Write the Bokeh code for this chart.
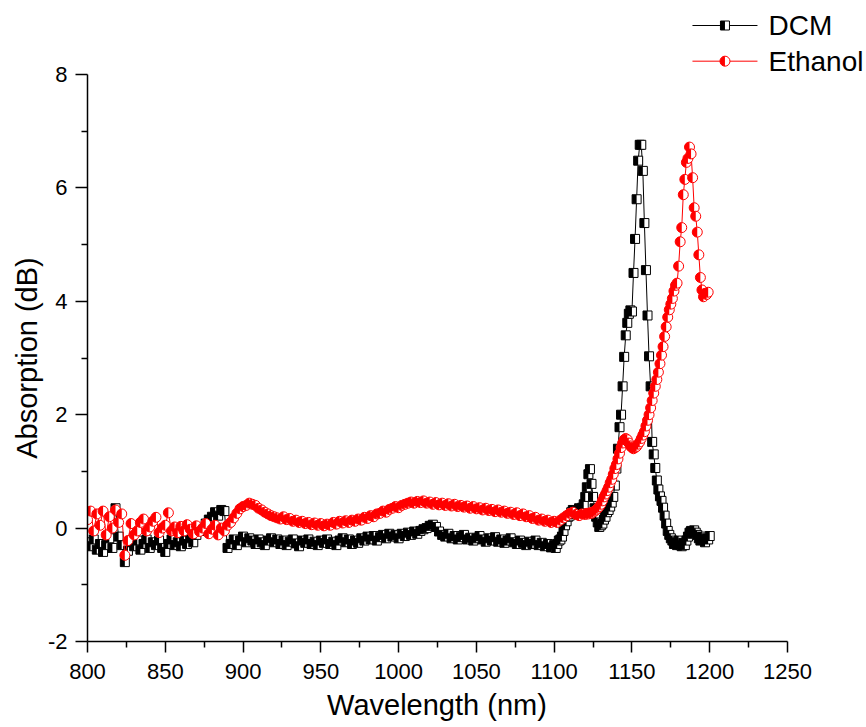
import math
from bokeh.plotting import figure
from bokeh.models import Range1d, FixedTicker, Title
from bokeh.transform import dodge
from bokeh.core.properties import value
from bokeh.embed import file_html
from bokeh.resources import INLINE

FONT = "Liberation Sans"

# ---------------- data ----------------
series_names = ["DCM", "Ethanol"]

dcm_wl_coarse = list(range(800, 1100, 2))
dcm_abs_coarse = [
    -0.25, -0.32, -0.20, -0.38, -0.28, -0.42, -0.30, -0.18, -0.35, 0.35,
    -0.15, -0.30, -0.60, -0.40, -0.25, -0.32, -0.22, -0.38, -0.28, -0.20,
    -0.35, -0.25, -0.30, -0.22, -0.35, -0.42, -0.28, -0.20, -0.30, -0.25,
    -0.32, -0.22, -0.28, -0.18, -0.25, -0.12, -0.05, 0.00, 0.08, 0.15,
    0.20, 0.28, 0.22, 0.32, 0.30, -0.35, -0.28, -0.20, -0.30, -0.22,
    -0.15, -0.25, -0.18, -0.22, -0.28, -0.20, -0.25, -0.30, -0.22, -0.18,
    -0.25, -0.20, -0.28, -0.22, -0.30, -0.24, -0.20, -0.27, -0.32, -0.22,
    -0.26, -0.20, -0.28, -0.24, -0.30, -0.22, -0.26, -0.20, -0.28, -0.24,
    -0.30, -0.22, -0.18, -0.25, -0.20, -0.28, -0.22, -0.26, -0.18, -0.22,
    -0.15, -0.20, -0.14, -0.22, -0.16, -0.12, -0.18, -0.10, -0.15, -0.12,
    -0.18, -0.10, -0.14, -0.08, -0.12, -0.06, -0.10, -0.05, -0.02, 0.00,
    0.04, 0.06, 0.02, -0.06, -0.12, -0.15, -0.10, -0.18, -0.14, -0.20,
    -0.16, -0.12, -0.20, -0.17, -0.22, -0.18, -0.14, -0.20, -0.24, -0.18,
    -0.22, -0.16, -0.24, -0.20, -0.26, -0.22, -0.18, -0.25, -0.28, -0.22,
    -0.26, -0.30, -0.24, -0.28, -0.22, -0.30, -0.26, -0.32, -0.28, -0.34,
]
dcm_wl_fine = list(range(1100, 1201))
dcm_abs_fine = [
    -0.30, -0.35, -0.28, -0.22, -0.20, -0.15, -0.05, 0.05, 0.12, 0.20,
    0.22, 0.28, 0.32, 0.30, 0.25, 0.30, 0.35, 0.30, 0.36, 0.42,
    0.55, 0.72, 0.95, 1.04, 0.78, 0.55, 0.35, 0.20, 0.10, 0.02,
    0.05, 0.08, 0.15, 0.20, 0.28, 0.32, 0.38, 0.45, 0.55, 0.75,
    1.05, 1.40, 1.78, 2.00, 2.50, 3.02, 3.40, 3.62, 3.78, 3.84,
    3.82, 4.50, 5.10, 5.80, 6.48, 6.76, 6.76, 6.30, 5.38, 4.55,
    3.75, 3.03, 2.50, 1.52, 1.30, 1.06, 0.84, 0.68, 0.56, 0.48,
    0.36, 0.22, 0.08, -0.05, -0.12, -0.18, -0.22, -0.28, -0.25, -0.30,
    -0.22, -0.30, -0.32, -0.26, -0.30, -0.22, -0.15, -0.08, -0.05, -0.10,
    -0.04, -0.08, -0.12, -0.18, -0.22, -0.15, -0.20, -0.25, -0.18, -0.20,
    -0.14,
]

eth_wl_coarse = list(range(800, 1120, 2))
eth_abs_coarse = [
    0.15, 0.30, -0.05, 0.25, 0.05, 0.30, -0.12, 0.20, 0.00, 0.32,
    0.10, 0.25, -0.48, -0.22, 0.08, -0.12, -0.05, 0.10, 0.16, -0.05,
    0.02, 0.12, 0.19, -0.08, 0.00, 0.05, 0.27, -0.05, 0.02, -0.08,
    0.03, -0.05, 0.06, -0.02, -0.10, 0.04, -0.06, 0.00, 0.08, -0.10,
    -0.02, 0.05, -0.12, 0.00, -0.05, 0.05, 0.10, 0.18, 0.26, 0.34,
    0.38, 0.40, 0.44, 0.42, 0.40, 0.35, 0.32, 0.28, 0.25, 0.22,
    0.20, 0.18, 0.16, 0.20, 0.15, 0.17, 0.12, 0.14, 0.10, 0.12,
    0.08, 0.10, 0.06, 0.09, 0.05, 0.08, 0.04, 0.07, 0.05, 0.10,
    0.07, 0.12, 0.09, 0.13, 0.10, 0.14, 0.12, 0.16, 0.14, 0.19,
    0.17, 0.22, 0.20, 0.25, 0.26, 0.30, 0.28, 0.33, 0.35, 0.38,
    0.36, 0.40, 0.42, 0.44, 0.46, 0.44, 0.47, 0.45, 0.48, 0.44,
    0.46, 0.42, 0.45, 0.41, 0.44, 0.40, 0.43, 0.39, 0.42, 0.38,
    0.40, 0.37, 0.39, 0.35, 0.38, 0.34, 0.36, 0.32, 0.35, 0.31,
    0.33, 0.29, 0.32, 0.28, 0.30, 0.26, 0.28, 0.24, 0.27, 0.22,
    0.25, 0.20, 0.22, 0.17, 0.19, 0.14, 0.16, 0.12, 0.14, 0.10,
    0.12, 0.10, 0.14, 0.18, 0.22, 0.26, 0.28, 0.24, 0.22, 0.25,
]
eth_wl_fine = list(range(1120, 1200))
eth_abs_fine = [
    0.24, 0.26, 0.25, 0.27, 0.26, 0.28, 0.30, 0.32, 0.35, 0.38,
    0.42, 0.48, 0.55, 0.60, 0.66, 0.72, 0.80, 0.86, 0.95, 1.05,
    1.12, 1.22, 1.32, 1.42, 1.50, 1.56, 1.58, 1.56, 1.50, 1.45,
    1.42, 1.40, 1.42, 1.44, 1.48, 1.52, 1.58, 1.64, 1.70, 1.80,
    1.90, 2.00, 2.12, 2.25, 2.38, 2.50, 2.62, 2.75, 2.90, 3.05,
    3.20, 3.38, 3.55, 3.72, 3.85, 3.95, 4.05, 4.18, 4.28, 4.32,
    4.62, 5.05, 5.30, 5.88, 6.15, 6.45, 6.52, 6.72, 6.60, 6.18,
    5.65, 5.50, 5.22, 4.82, 4.42, 4.20, 4.08, 4.14, 4.12, 4.16,
]

x_ticks = [800, 850, 900, 950, 1000, 1050, 1100, 1150, 1200, 1250]
x_minor = [825, 875, 925, 975, 1025, 1075, 1125, 1175, 1225]
y_ticks = [-2, 0, 2, 4, 6, 8]
y_minor = [-1, 1, 3, 5, 7]
x_title = "Wavelength (nm)"
y_title = "Absorption (dB)"

dcm_x = dcm_wl_coarse + dcm_wl_fine
dcm_y = dcm_abs_coarse + dcm_abs_fine
eth_x = eth_wl_coarse + eth_wl_fine
eth_y = eth_abs_coarse + eth_abs_fine

# ---------------- layout ----------------
FIG_W, FIG_H = 866, 727
BORDER_L, BORDER_B = 87, 86
X_AXIS = (800, 1250)
Y_AXIS = (-2, 8)
PX_PER_NM = 700 / 450.0      # 450 nm over 700 px
PX_PER_DB = 567 / 10.0       # 10 dB over 567 px
FRAME_W, FRAME_H = FIG_W - BORDER_L, FIG_H - BORDER_B  # frame also holds the legend

x_end = X_AXIS[0] + FRAME_W / PX_PER_NM
y_end = Y_AXIS[0] + FRAME_H / PX_PER_DB

p = figure(width=FIG_W, height=FIG_H, output_backend="svg", toolbar_location=None,
           x_range=Range1d(X_AXIS[0], x_end), y_range=Range1d(Y_AXIS[0], y_end),
           min_border_left=BORDER_L, min_border_right=0, min_border_top=0,
           min_border_bottom=BORDER_B)
p.outline_line_color = None
p.xgrid.visible = False
p.ygrid.visible = False
p.background_fill_color = "white"
p.border_fill_color = "white"

for ax, ticks, minor, bounds in ((p.xaxis[0], x_ticks, x_minor, X_AXIS),
                                 (p.yaxis[0], y_ticks, y_minor, Y_AXIS)):
    ax.ticker = FixedTicker(ticks=ticks, minor_ticks=minor)
    ax.bounds = bounds
    ax.axis_line_width = 1.5
    ax.major_tick_line_width = 1.5
    ax.minor_tick_line_width = 1.5
    ax.major_tick_in = 0
    ax.minor_tick_in = 0
    ax.major_label_text_font = FONT
    ax.major_label_text_font_size = "22px"
    ax.major_label_text_color = "black"
    ax.major_label_overrides = {t: str(t) for t in ticks}

p.xaxis.major_tick_out = 11
p.xaxis.minor_tick_out = 6
p.xaxis.major_label_standoff = 11

p.yaxis.major_tick_out = 12
p.yaxis.minor_tick_out = 6
p.yaxis.major_label_standoff = 8

# axis titles, placed along the axis extents (the frame is wider / taller)
X_TITLE_FS, Y_TITLE_FS = 29, 29
title_kw = dict(text_font=FONT, text_font_style="normal", text_color="black", align="left")
x_title_w = 7.613 * X_TITLE_FS          # Arial-metric advance width of the title
y_title_w = 6.947 * Y_TITLE_FS
x_off = (sum(X_AXIS) / 2 - X_AXIS[0]) * PX_PER_NM - x_title_w / 2
y_off = (sum(Y_AXIS) / 2 - Y_AXIS[0]) * PX_PER_DB - y_title_w / 2
p.add_layout(Title(text=x_title, offset=x_off, standoff=11,
                   text_font_size=f"{X_TITLE_FS}px", **title_kw), "below")
p.add_layout(Title(text=y_title, offset=y_off, standoff=4,
                   text_font_size=f"{Y_TITLE_FS}px", **title_kw), "left")

HALF_SQ_OFFSET = -2.25 / PX_PER_NM


def half_square(xs, ys, color, size=9):
    p.scatter(xs, ys, marker="square", size=size, fill_color="white",
              line_color=color, line_width=1)
    p.rect(x=dodge("x", HALF_SQ_OFFSET, range=p.x_range), y="y",
           source=dict(x=xs, y=ys), width=size / 2, height=size,
           width_units="screen", height_units="screen",
           fill_color=color, line_color=None)


def half_circle(xs, ys, color, size=10):
    p.scatter(xs, ys, marker="circle", size=size, fill_color="white",
              line_color=color, line_width=1)
    p.wedge(xs, ys, radius=size / 2, radius_units="screen",
            start_angle=math.pi / 2, end_angle=3 * math.pi / 2,
            fill_color=color, line_color=None)


# DCM (black, half-filled squares)
p.line(dcm_x, dcm_y, line_color="black", line_width=1)
half_square(dcm_x, dcm_y, "black")

# Ethanol (red, half-filled circles)
p.line(eth_x, eth_y, line_color="red", line_width=1)
half_circle(eth_x, eth_y, "red")

# ---------------- legend (top right, above the axes) ----------------
LEG_X0, LEG_X1, LEG_XM, LEG_TX = 1188.9, 1230.7, 1209.8, 1237.8
LEG_Y = [8.864, 8.235]
leg_colors = ["black", "red"]

for name, yy, col in zip(series_names, LEG_Y, leg_colors):
    p.segment(x0=[LEG_X0], y0=[yy], x1=[LEG_X1], y1=[yy], line_color=col, line_width=1)
    if name == "DCM":
        half_square([LEG_XM], [yy], col)
    else:
        half_circle([LEG_XM], [yy], col)
    p.text(x=[LEG_TX], y=[yy], text=[name], text_font=value(FONT),
           text_font_size="28px", text_baseline="middle", text_align="left",
           text_color="black")

open("out.html", "w").write(file_html(p, INLINE))
